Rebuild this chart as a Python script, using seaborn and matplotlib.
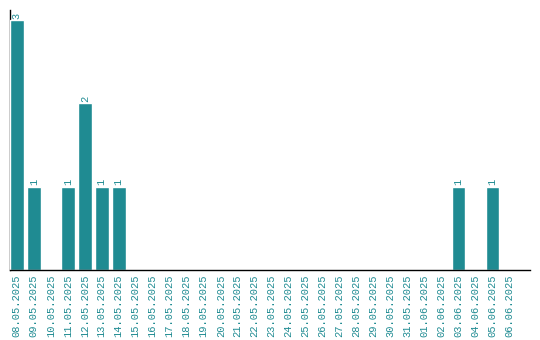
import matplotlib
matplotlib.use("Agg")
import matplotlib.pyplot as plt
import seaborn as sns
import pandas as pd

dates = ["08.05.2025", "09.05.2025", "10.05.2025", "11.05.2025", "12.05.2025",
         "13.05.2025", "14.05.2025", "15.05.2025", "16.05.2025", "17.05.2025",
         "18.05.2025", "19.05.2025", "20.05.2025", "21.05.2025", "22.05.2025",
         "23.05.2025", "24.05.2025", "25.05.2025", "26.05.2025", "27.05.2025",
         "28.05.2025", "29.05.2025", "30.05.2025", "31.05.2025", "01.06.2025",
         "02.06.2025", "03.06.2025", "04.06.2025", "05.06.2025", "06.06.2025"]
counts = [3, 1, 0, 1, 2, 1, 1, 0, 0, 0,
          0, 0, 0, 0, 0, 0, 0, 0, 0, 0,
          0, 0, 0, 0, 0, 0, 1, 0, 1, 0]

teal = "#1f8b92"
df = pd.DataFrame({"date": dates, "count": counts})

sns.set_style("white")
plt.rcParams['font.family'] = ['Liberation Mono', 'DejaVu Sans Mono']

fig = plt.figure(figsize=(5.4, 3.4), dpi=100)
ax = fig.add_axes([10 / 540, 70 / 340, 520 / 540, 260 / 340])

sns.barplot(data=df, x="date", y="count", color=teal, saturation=1, width=0.8, ax=ax)

# no label on empty days
labels = [str(c) if c > 0 else "" for c in counts]
ax.bar_label(ax.containers[0], labels=labels, rotation=90, fontsize=7.5,
             color=teal, padding=1)

ax.set_xlim(-0.4, 30.2)
ax.set_ylim(0, 3.12)
ax.set_xlabel("")
ax.set_ylabel("")
ax.set_yticks([])
ax.tick_params(axis="x", length=0, pad=3, labelsize=7.5, labelcolor=teal, rotation=90)

for s in ["top", "right"]:
    ax.spines[s].set_visible(False)
for s in ["left", "bottom"]:
    ax.spines[s].set_color("black")
    ax.spines[s].set_linewidth(1)
# first bar sits on top of the left spine
ax.spines["left"].set_zorder(0.5)

fig.savefig("out.png", dpi=100)
